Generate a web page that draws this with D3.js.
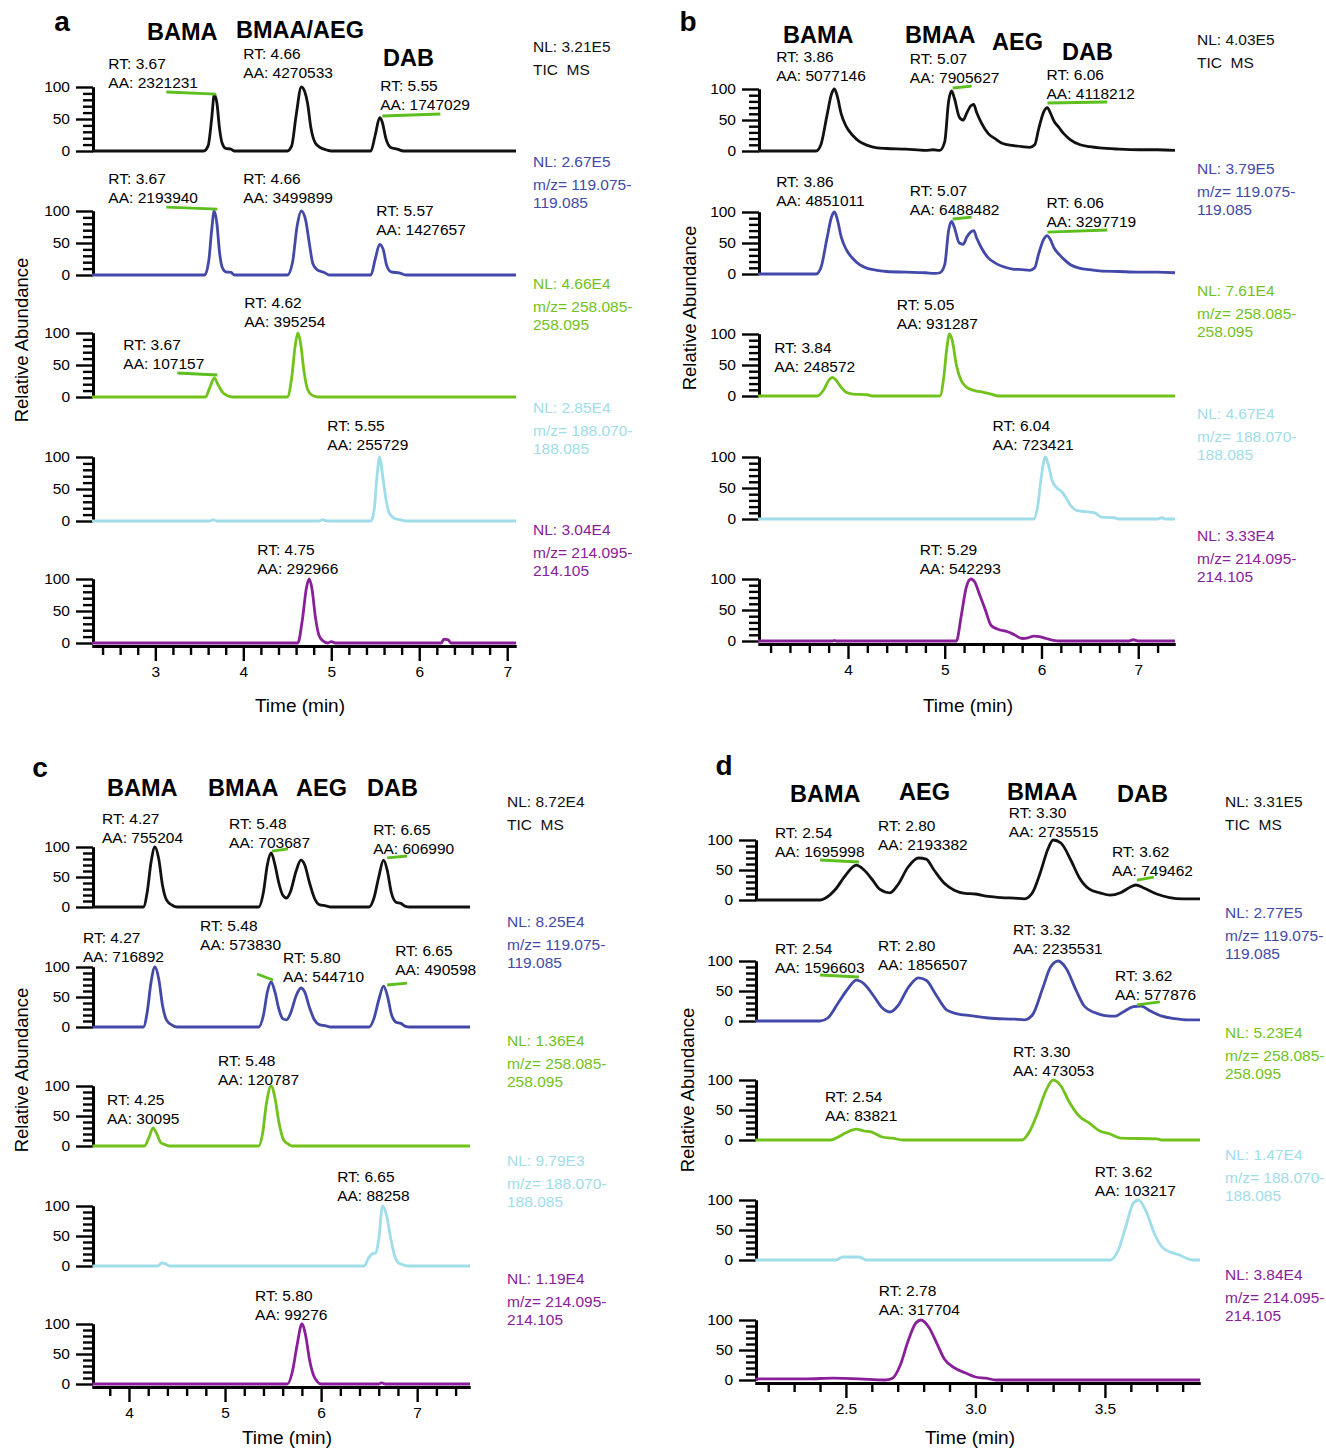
<!DOCTYPE html>
<html>
<head>
<meta charset="utf-8">
<script src="https://cdn.jsdelivr.net/npm/d3@7"></script>
<style>
  body { margin: 0; background: #fff; }
  svg { display: block; }
  text { font-family: "Liberation Sans", Arial, sans-serif; white-space: pre; }
</style>
</head>
<body>
<svg id="fig" width="1326" height="1449"></svg>
<script>
// ---- data: chromatogram traces, [time (min), relative abundance %] ----
// panel a
const aTic = [[2.28,0],[3.55,0],[3.60,8],[3.64,50],[3.67,88],[3.70,75],[3.73,35],[3.76,12],[3.80,4],[3.86,3],[3.90,0],[4.50,0],[4.55,8],[4.60,55],[4.66,100],[4.70,92],[4.73,75],[4.77,35],[4.82,12],[4.88,5],[4.94,2],[5.00,0],[5.45,0],[5.50,25],[5.55,52],[5.58,45],[5.62,20],[5.67,6],[5.75,3],[5.82,0],[7.10,0]];
const aMz119 = [[2.28,0],[3.56,0],[3.61,25],[3.64,70],[3.67,100],[3.70,80],[3.73,35],[3.76,12],[3.80,5],[3.86,4],[3.90,0],[4.50,0],[4.56,20],[4.61,75],[4.66,100],[4.71,85],[4.75,50],[4.79,18],[4.84,8],[4.92,4],[4.98,0],[5.45,0],[5.50,25],[5.55,48],[5.59,40],[5.63,15],[5.68,5],[5.78,3],[5.85,0],[7.10,0]];
const aMz258 = [[2.28,0],[3.57,0],[3.62,15],[3.67,30],[3.71,20],[3.76,8],[3.82,2],[3.88,0],[4.50,0],[4.55,30],[4.59,80],[4.62,100],[4.65,85],[4.69,40],[4.73,12],[4.78,3],[4.85,0],[7.10,0]];
const aMz188 = [[2.28,0],[3.62,0],[3.66,2],[3.70,0],[4.86,0],[4.90,2],[4.96,0],[5.45,0],[5.49,20],[5.52,70],[5.55,100],[5.58,75],[5.62,35],[5.66,12],[5.72,4],[5.78,2],[5.85,0],[7.10,0]];
const aMz214 = [[2.28,0],[4.62,0],[4.67,35],[4.72,88],[4.75,100],[4.78,85],[4.82,40],[4.86,12],[4.90,4],[4.96,0],[5.00,2],[5.05,0],[6.25,0],[6.28,6],[6.33,5],[6.36,0],[7.10,0]];
// panel b
const bTic = [[3.07,0],[3.67,0],[3.72,10],[3.78,55],[3.83,92],[3.86,100],[3.89,88],[3.93,60],[3.98,40],[4.05,25],[4.12,15],[4.20,9],[4.30,5],[4.40,4],[4.60,3],[4.80,1],[4.88,2],[4.95,1],[5.00,15],[5.04,80],[5.07,97],[5.10,85],[5.15,55],[5.19,50],[5.23,62],[5.27,73],[5.30,75],[5.33,62],[5.38,45],[5.45,28],[5.52,20],[5.60,12],[5.70,9],[5.80,7],[5.88,6],[5.93,10],[5.97,35],[6.02,62],[6.06,70],[6.09,62],[6.13,48],[6.18,38],[6.23,28],[6.30,18],[6.40,10],[6.50,7],[6.60,5],[6.80,3],[7.00,2],[7.20,2],[7.38,1]];
const bMz119 = [[3.07,0],[3.67,0],[3.72,10],[3.78,55],[3.83,92],[3.86,100],[3.89,88],[3.93,60],[3.98,40],[4.05,25],[4.12,15],[4.20,9],[4.30,6],[4.40,4],[4.60,3],[4.80,2],[4.90,1],[4.95,2],[5.00,15],[5.04,70],[5.07,85],[5.10,75],[5.15,50],[5.19,48],[5.23,60],[5.27,68],[5.30,70],[5.33,58],[5.38,42],[5.45,26],[5.52,18],[5.60,12],[5.70,8],[5.80,7],[5.88,6],[5.93,10],[5.97,32],[6.02,55],[6.06,62],[6.09,56],[6.13,42],[6.18,32],[6.23,24],[6.30,15],[6.40,9],[6.50,7],[6.60,5],[6.80,4],[7.00,3],[7.20,3],[7.38,2]];
const bMz258 = [[3.07,0],[3.68,0],[3.75,10],[3.80,25],[3.84,30],[3.88,25],[3.93,14],[3.98,6],[4.05,3],[4.20,2],[4.25,0],[4.95,0],[4.99,30],[5.02,75],[5.05,100],[5.08,88],[5.12,50],[5.17,25],[5.22,15],[5.30,9],[5.40,6],[5.48,3],[5.55,0],[7.38,0]];
const bMz188 = [[3.07,0],[5.92,0],[5.96,20],[6.00,70],[6.04,100],[6.07,88],[6.11,62],[6.16,50],[6.21,44],[6.25,35],[6.30,22],[6.36,14],[6.45,12],[6.55,10],[6.62,3],[6.75,2],[6.80,0],[7.20,0],[7.24,2],[7.28,0],[7.38,0]];
const bMz214 = [[3.07,0],[3.84,0],[3.86,1],[3.88,0],[5.12,0],[5.17,40],[5.22,85],[5.27,100],[5.31,95],[5.36,75],[5.42,50],[5.48,25],[5.55,19],[5.65,15],[5.72,10],[5.80,4],[5.86,5],[5.92,8],[5.98,7],[6.05,4],[6.12,1],[6.20,0],[6.90,0],[6.95,2],[7.00,0],[7.38,0]];
// panel c
const cTic = [[3.62,0],[4.15,0],[4.19,25],[4.23,75],[4.27,100],[4.31,80],[4.35,35],[4.39,12],[4.45,3],[4.50,0],[5.35,0],[5.40,25],[5.44,70],[5.48,90],[5.52,70],[5.56,40],[5.60,20],[5.64,15],[5.68,25],[5.74,60],[5.79,78],[5.83,70],[5.88,40],[5.93,15],[5.98,4],[6.05,2],[6.10,0],[6.50,0],[6.55,15],[6.60,50],[6.65,78],[6.69,60],[6.73,25],[6.78,8],[6.83,6],[6.88,1],[6.92,0],[7.55,0]];
const cMz119 = [[3.62,0],[4.15,0],[4.19,25],[4.23,75],[4.27,100],[4.31,80],[4.35,35],[4.39,12],[4.45,3],[4.50,0],[5.35,0],[5.40,20],[5.44,58],[5.48,75],[5.52,58],[5.56,30],[5.60,14],[5.64,12],[5.68,22],[5.74,52],[5.79,65],[5.83,58],[5.88,32],[5.93,12],[5.98,4],[6.05,2],[6.10,0],[6.50,0],[6.55,14],[6.60,45],[6.65,68],[6.69,52],[6.73,22],[6.78,8],[6.83,6],[6.88,1],[6.92,0],[7.55,0]];
const cMz258 = [[3.62,0],[4.16,0],[4.21,15],[4.25,30],[4.29,20],[4.33,6],[4.38,2],[4.42,0],[5.35,0],[5.39,20],[5.43,70],[5.48,100],[5.52,80],[5.56,40],[5.61,10],[5.66,3],[5.70,0],[7.55,0]];
const cMz188 = [[3.62,0],[4.30,0],[4.34,5],[4.38,4],[4.42,0],[6.45,0],[6.49,12],[6.53,20],[6.57,22],[6.60,45],[6.64,100],[6.68,85],[6.72,50],[6.76,20],[6.80,6],[6.85,2],[6.90,0],[7.55,0]];
const cMz214 = [[3.62,0],[5.65,0],[5.70,20],[5.75,65],[5.80,100],[5.84,80],[5.88,40],[5.92,15],[5.96,4],[6.00,0],[6.60,0],[6.63,2],[6.67,0],[7.55,0]];
// panel d
const dTic = [[2.15,0],[2.40,0],[2.42,3],[2.46,18],[2.50,42],[2.54,58],[2.57,50],[2.60,35],[2.63,18],[2.67,12],[2.70,25],[2.74,55],[2.78,70],[2.81,68],[2.84,50],[2.88,28],[2.92,16],[2.96,11],[3.00,10],[3.05,6],[3.10,4],[3.15,3],[3.19,2],[3.22,12],[3.25,45],[3.28,85],[3.30,100],[3.33,95],[3.37,65],[3.40,38],[3.44,18],[3.48,12],[3.52,8],[3.56,12],[3.60,22],[3.62,25],[3.65,20],[3.70,10],[3.75,4],[3.80,2],[3.867,2]];
const dMz119 = [[2.15,0],[2.40,0],[2.43,5],[2.47,30],[2.51,55],[2.54,68],[2.57,62],[2.61,40],[2.64,22],[2.67,15],[2.70,25],[2.74,55],[2.78,72],[2.81,68],[2.85,42],[2.89,18],[2.93,12],[2.98,9],[3.05,5],[3.15,3],[3.19,2],[3.22,10],[3.26,55],[3.29,90],[3.32,100],[3.35,88],[3.39,50],[3.42,25],[3.46,14],[3.50,9],[3.54,8],[3.57,15],[3.61,24],[3.64,25],[3.67,18],[3.72,8],[3.77,4],[3.82,2],[3.867,2]];
const dMz258 = [[2.15,0],[2.44,0],[2.47,5],[2.50,12],[2.54,18],[2.57,15],[2.60,13],[2.64,5],[2.68,3],[2.72,0],[3.18,0],[3.21,15],[3.24,45],[3.27,80],[3.30,100],[3.33,90],[3.36,65],[3.40,40],[3.44,28],[3.48,15],[3.52,10],[3.56,3],[3.70,2],[3.72,0],[3.867,0]];
const dMz188 = [[2.15,0],[2.46,0],[2.49,5],[2.55,5],[2.58,0],[3.52,0],[3.55,15],[3.58,55],[3.61,95],[3.63,100],[3.66,80],[3.69,45],[3.72,22],[3.76,12],[3.79,8],[3.82,2],[3.84,0],[3.867,0]];
const dMz214 = [[2.15,2],[2.35,2],[2.45,3],[2.55,2],[2.65,0],[2.68,3],[2.71,25],[2.74,65],[2.77,95],[2.79,100],[2.82,88],[2.85,62],[2.88,35],[2.92,20],[2.96,12],[3.00,5],[3.04,3],[3.08,0],[3.867,0]];

// ---- labels ----
const mzRanges = [["TIC  MS"], ["m/z= 119.075-", "119.085"], ["m/z= 258.085-", "258.095"], ["m/z= 188.070-", "188.085"], ["m/z= 214.095-", "214.105"]];
const compoundsA = ["BAMA", "BMAA/AEG", "DAB"];
const compoundsB = ["BAMA", "BMAA", "AEG", "DAB"];
const compoundsC = ["BAMA", "BMAA", "AEG", "DAB"];
const compoundsD = ["BAMA", "AEG", "BMAA", "DAB"];
const nlA = ["3.21E5", "2.67E5", "4.66E4", "2.85E4", "3.04E4"];
const nlB = ["4.03E5", "3.79E5", "7.61E4", "4.67E4", "3.33E4"];
const nlC = ["8.72E4", "8.25E4", "1.36E4", "9.79E3", "1.19E4"];
const nlD = ["3.31E5", "2.77E5", "5.23E4", "1.47E4", "3.84E4"];
// peak labels: [trace index, RT, AA]
const peaksA = [[0,"3.67","2321231"],[0,"4.66","4270533"],[0,"5.55","1747029"],[1,"3.67","2193940"],[1,"4.66","3499899"],[1,"5.57","1427657"],[2,"4.62","395254"],[2,"3.67","107157"],[3,"5.55","255729"],[4,"4.75","292966"]];
const peaksB = [[0,"3.86","5077146"],[0,"5.07","7905627"],[0,"6.06","4118212"],[1,"3.86","4851011"],[1,"5.07","6488482"],[1,"6.06","3297719"],[2,"5.05","931287"],[2,"3.84","248572"],[3,"6.04","723421"],[4,"5.29","542293"]];
const peaksC = [[0,"4.27","755204"],[0,"5.48","703687"],[0,"6.65","606990"],[1,"4.27","716892"],[1,"5.48","573830"],[1,"5.80","544710"],[1,"6.65","490598"],[2,"5.48","120787"],[2,"4.25","30095"],[3,"6.65","88258"],[4,"5.80","99276"]];
const peaksD = [[0,"2.54","1695998"],[0,"2.80","2193382"],[0,"3.30","2735515"],[0,"3.62","749462"],[1,"2.54","1596603"],[1,"2.80","1856507"],[1,"3.32","2235531"],[1,"3.62","577876"],[2,"3.30","473053"],[2,"2.54","83821"],[3,"3.62","103217"],[4,"2.78","317704"]];

// ---- styling / layout ----
const colors = ["#111111", "#4349a8", "#72c21c", "#9fdde8", "#8a2099"];
const markColor = "#5cbf1e";
const fontSm = 15.5;

const panels = [
  { letter: "a", traces: [aTic, aMz119, aMz258, aMz188, aMz214], nl: nlA, comps: compoundsA, peaks: peaksA,
    domain: [2.28, 7.10], xRange: [92, 516], y0s: [151, 275, 397, 521, 643], h: 64,
    minor: 0.2, majors: [3, 4, 5, 6, 7], fmt: d3.format("d"),
    letterPos: [62, 31], ylab: [22, 340], xlab: [300, 712], nlX: 533, nlTop: [-104, -113, -113, -113, -113],
    compPos: [[147, 40], [236, 38], [383, 66]],
    annPos: [[2.466,98],[4.0,114],[5.557,64],[2.466,112.5],[4.0,112.5],[5.511,62.5],[4.011,109],[2.636,43.7],[4.955,111],[4.159,108]],
    marks: [[0,3.125,92.2,3.693,89],[0,5.58,54.7,6.24,57.8],[1,3.125,106,3.705,103],[2,3.25,37.5,3.705,34.4]] },
  { letter: "b", traces: [bTic, bMz119, bMz258, bMz188, bMz214], nl: nlB, comps: compoundsB, peaks: peaksB,
    domain: [3.07, 7.38], xRange: [758, 1175], y0s: [151, 274, 396, 519, 641], h: 62,
    minor: 0.2, majors: [4, 5, 6, 7], fmt: d3.format("d"),
    letterPos: [688, 31], ylab: [690, 308], xlab: [968, 712], nlX: 1197, nlTop: [-111, -105, -105, -105, -105],
    compPos: [[783, 43], [905, 43], [992, 50], [1062, 60]],
    annPos: [[3.258,112.9],[4.639,109.7],[6.052,83.9],[3.258,109.7],[4.639,95.2],[6.052,75.8],[4.505,108],[3.237,38.7],[5.495,111],[4.742,108]],
    marks: [[0,5.082,101.6,5.278,104.8],[0,6.062,77.4,6.68,79],[1,5.082,88.7,5.278,91.9],[1,6.062,67.7,6.68,71]] },
  { letter: "c", traces: [cTic, cMz119, cMz258, cMz188, cMz214], nl: nlC, comps: compoundsC, peaks: peaksC,
    domain: [3.615, 7.55], xRange: [92, 470], y0s: [907, 1027, 1146, 1266, 1384], h: 60,
    minor: 0.2, majors: [4, 5, 6, 7], fmt: d3.format("d"),
    letterPos: [40, 777], ylab: [22, 1070], xlab: [287, 1444], nlX: 507, nlTop: [-105, -105, -105, -105, -105],
    compPos: [[107, 796], [208, 796], [296, 796], [367, 796]],
    annPos: [[3.719,106.7],[5.042,98.3],[6.542,88.3],[3.521,108.3],[4.74,128.3],[5.604,75],[6.771,86.7],[4.927,101.7],[3.771,36.7],[6.167,108.3],[5.3125,106.7]],
    marks: [[0,5.49,93.3,5.656,96.7],[0,6.688,81.7,6.896,85],[1,5.333,88.3,5.5,78.3],[1,6.688,70,6.896,73.3]] },
  { letter: "d", traces: [dTic, dMz119, dMz258, dMz188, dMz214], nl: nlD, comps: compoundsD, peaks: peaksD,
    domain: [2.149, 3.867], xRange: [755, 1200], y0s: [900, 1021, 1140, 1260, 1380], h: 60,
    minor: 0.1, majors: [2.5, 3.0, 3.5], fmt: d3.format(".1f"),
    letterPos: [724, 775], ylab: [688, 1090], xlab: [970, 1444], nlX: 1225, nlTop: [-98, -108, -107, -105, -105],
    compPos: [[790, 802], [899, 800], [1007, 800], [1117, 802]],
    annPos: [[2.226,71.7],[2.624,83.3],[3.129,105],[3.527,40],[2.226,80],[2.624,85],[3.145,111.7],[3.539,35],[3.145,106.7],[2.419,31.7],[3.461,106.7],[2.627,108.3]],
    marks: [[0,2.40,66.7,2.55,63.3],[0,3.624,33.3,3.689,38.3],[1,2.40,76.7,2.55,73.3],[1,3.624,26.7,3.712,31.7]] }
];

const svg = d3.select("#fig");

panels.forEach(p => {
  const g = svg.append("g");
  const x = d3.scaleLinear().domain(p.domain).range(p.xRange);
  const ys = p.y0s.map(y0 => d3.scaleLinear().domain([0, 100]).range([y0, y0 - p.h]));

  // panel letter
  g.append("text").attr("x", p.letterPos[0]).attr("y", p.letterPos[1])
    .attr("text-anchor", "middle").attr("font-size", 28).attr("font-weight", "bold").text(p.letter);

  // compound names
  p.comps.forEach((c, i) => {
    g.append("text").attr("x", p.compPos[i][0]).attr("y", p.compPos[i][1])
      .attr("font-size", 23.5).attr("font-weight", "bold").text(c);
  });

  // x axis (under the last trace)
  const xAxisY = p.y0s[4] + 3;
  const start = Math.ceil((p.domain[0] + 1e-6) / p.minor) * p.minor;
  const minorTicks = d3.range(start, p.domain[1] + 1e-6, p.minor)
    .filter(t => !p.majors.some(m => Math.abs(m - t) < 1e-6));
  const xMinor = g.append("g").attr("transform", `translate(0,${xAxisY})`)
    .call(d3.axisBottom(x).tickValues(minorTicks).tickSize(9).tickSizeOuter(0).tickFormat(""));
  const xMajor = g.append("g").attr("transform", `translate(0,${xAxisY})`)
    .call(d3.axisBottom(x).tickValues(p.majors).tickSize(15).tickSizeOuter(0).tickPadding(5).tickFormat(p.fmt));
  [xMinor, xMajor].forEach(ax => {
    ax.select(".domain").attr("stroke", "#000").attr("stroke-width", 3);
    ax.selectAll(".tick line").attr("stroke", "#000").attr("stroke-width", 2.4);
    ax.selectAll("text").attr("font-size", fontSm).attr("fill", "#000")
      .attr("font-family", "'Liberation Sans', Arial, sans-serif");
  });

  // axis titles
  g.append("text").attr("x", p.xlab[0]).attr("y", p.xlab[1]).attr("text-anchor", "middle")
    .attr("font-size", 19).text("Time (min)");
  g.append("text").attr("transform", `translate(${p.ylab[0]},${p.ylab[1]}) rotate(-90)`)
    .attr("text-anchor", "middle").attr("dy", "0.35em").attr("font-size", 18.5).text("Relative Abundance");

  const line = d3.line().x(d => x(d[0])).curve(d3.curveMonotoneX);

  p.traces.forEach((tr, i) => {
    const y = ys[i];
    // y axis with dense minor ticks
    const yMinor = g.append("g").attr("transform", `translate(${p.xRange[0] + 1},0)`)
      .call(d3.axisLeft(y).tickValues(d3.range(10, 100, 10).filter(v => v !== 50)).tickSize(10).tickSizeOuter(0).tickFormat(""));
    const yMajor = g.append("g").attr("transform", `translate(${p.xRange[0] + 1},0)`)
      .call(d3.axisLeft(y).tickValues([0, 50, 100]).tickSize(17).tickSizeOuter(0).tickPadding(6).tickFormat(d3.format("d")));
    [yMinor, yMajor].forEach(ax => {
      ax.select(".domain").attr("stroke", "#000").attr("stroke-width", 3);
      ax.selectAll(".tick line").attr("stroke", "#000").attr("stroke-width", 2.4);
      ax.selectAll("text").attr("font-size", fontSm).attr("fill", "#000")
        .attr("font-family", "'Liberation Sans', Arial, sans-serif");
    });

    // trace
    g.append("path").datum(tr)
      .attr("d", line.y(d => y(d[1])))
      .attr("fill", "none").attr("stroke", colors[i]).attr("stroke-width", 2.8)
      .attr("stroke-linejoin", "round");

    // NL labels on the right
    const lines = ["NL: " + p.nl[i]].concat(mzRanges[i]);
    const offs = i === 0 ? [0, 23] : [0, 23, 41];
    lines.forEach((t, k) => {
      g.append("text").attr("x", p.nlX).attr("y", p.y0s[i] + p.nlTop[i] + offs[k] + 5)
        .attr("font-size", fontSm).attr("fill", i === 0 ? "#111" : colors[i]).text(t);
    });
  });

  // integration markers
  p.marks.forEach(m => {
    const y = ys[m[0]];
    g.append("line").attr("x1", x(m[1])).attr("y1", y(m[2])).attr("x2", x(m[3])).attr("y2", y(m[4]))
      .attr("stroke", markColor).attr("stroke-width", 2.8);
  });

  // RT / AA labels
  p.peaks.forEach((pk, k) => {
    const y = ys[pk[0]];
    const px = x(p.annPos[k][0]), py = y(p.annPos[k][1]);
    g.append("text").attr("x", px).attr("y", py - 19).attr("font-size", fontSm).text("RT: " + pk[1]);
    g.append("text").attr("x", px).attr("y", py).attr("font-size", fontSm).text("AA: " + pk[2]);
  });
});
</script>
</body>
</html>
